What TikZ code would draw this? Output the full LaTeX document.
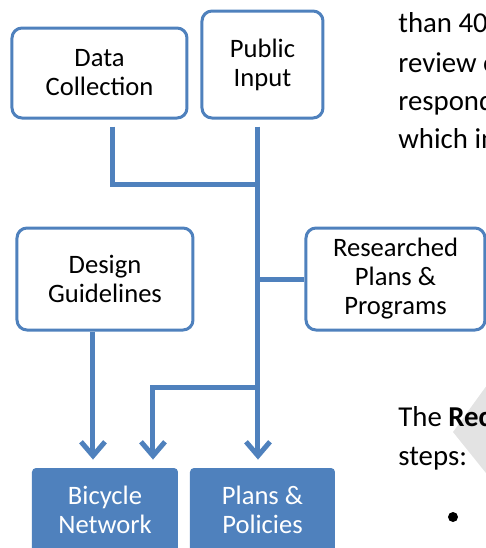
\documentclass[tikz,border=0pt]{standalone}
\usepackage{fontspec}
\setmainfont{Carlito}
\usetikzlibrary{arrows.meta}
\usetikzlibrary{positioning}
\usetikzlibrary{calc}
\definecolor{planblue}{HTML}{4F81BD}

\begin{document}
\begin{tikzpicture}[x=0.5pt,y=-0.5pt,
  inputbox/.style={draw=planblue,line width=1.5pt,rounded corners=5pt,fill=white,align=center,inner sep=0pt,font=\fontsize{13.3}{14.5}\selectfont},
  outputbox/.style={fill=planblue,text=white,rounded corners=2pt,align=center,inner sep=0pt,font=\fontsize{13.3}{14.5}\selectfont},
  link/.style={draw=planblue,line width=2.5pt},
  linkarrow/.style={link,-{Straight Barb[length=7pt,width=12pt]},shorten >=4pt},
  bodytext/.style={anchor=base west,inner sep=0pt,font=\fontsize{14.4}{18.5}\selectfont}]
  \useasboundingbox (0,0) rectangle (486,548);
  \clip (0,0) rectangle (486,548);
  \fill[gray!22] (453,432) -- (490,381) -- (530,432) -- (490,478) -- cycle;
  \node[inputbox,minimum width=87.5pt,minimum height=45pt] (dc) at (99.5,73) {Data\\Collection};
  \node[inputbox,minimum width=60.5pt,minimum height=53.5pt] (pi) at (262.5,64.5) {Public\\Input};
  \node[inputbox,minimum width=88pt,minimum height=51pt] (dg) at (105,279) {Design\\Guidelines};
  \node[inputbox,minimum width=89.5pt,minimum height=51pt] (rp) at (395.5,279) {Researched\\Plans \&\\Programs};
  \node[outputbox,minimum width=73pt,minimum height=42pt] (bn) at (105,510) {Bicycle\\Network};
  \node[outputbox,minimum width=72.5pt,minimum height=42pt] (pp) at (262.5,510) {Plans \&\\Policies};
  \coordinate (j1) at (258,184);
  \coordinate (j2) at (258,279);
  \coordinate (j3) at (258,387);
  \draw[link,shorten <=3.5pt] ($(dc.south)+(13.5,0)$) |- (j1);
  \draw[linkarrow,shorten <=3.5pt] (pi.south -| j1) -- (pp.north -| j1);
  \draw[link] (rp.west) -- (j2);
  \draw[linkarrow] (j3) -| ($(bn.north)+(48,0)$);
  \draw[linkarrow] ($(dg.south)+(-12,0)$) -- ($(bn.north)+(-12,0)$);
  \node[bodytext] (t1) at (398,32) {than 40};
  \node[bodytext] (t2) at (398,72) {review o};
  \node[bodytext] (t3) at (398,110) {respond};
  \node[bodytext] (t4) at (398,148) {which in};
  \node[bodytext] (t5) at (398,426) {The \textbf{Rec}};
  \node[bodytext] (t6) at (398,465) {steps:};
  \node[circle,fill=black,inner sep=0pt,minimum size=5pt] (bul) at (453,517) {};
\end{tikzpicture}
\end{document}
